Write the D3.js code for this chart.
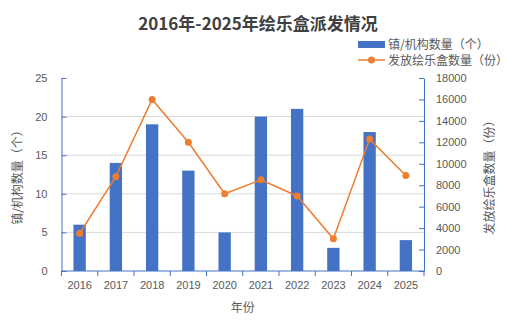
<!DOCTYPE html>
<html>
<head>
<meta charset="utf-8">
<script src="https://cdn.jsdelivr.net/npm/d3@7"></script>
<style>
  body { margin: 0; background: #fff; }
  text { font-family: "Noto Sans CJK SC", "Noto Sans", sans-serif; }
</style>
</head>
<body>
<div id="chart"></div>
<script>
var years = ["2016", "2017", "2018", "2019", "2020", "2021", "2022", "2023", "2024", "2025"];
var orgCount = [6, 14, 19, 13, 5, 20, 21, 3, 18, 4];
var boxCount = [3500, 8800, 16000, 12000, 7200, 8500, 7000, 3000, 12300, 8900];
var leftTicks = [0, 5, 10, 15, 20, 25];
var rightTicks = [0, 2000, 4000, 6000, 8000, 10000, 12000, 14000, 16000, 18000];

var W = 517, H = 325;
var m = { left: 61.5, right: 93, top: 78, bottom: 54 };
var iw = W - m.left - m.right, ih = H - m.top - m.bottom;

var blue = "#4472C4", orange = "#ED7D31", grey = "#595959";

var svg = d3.select("#chart").append("svg")
    .attr("width", W)
    .attr("height", H);

// 标题
svg.append("text")
    .attr("x", 258).attr("y", 30)
    .attr("text-anchor", "middle")
    .style("font-size", "17px")
    .style("font-weight", "bold")
    .attr("fill", "#404040")
    .text("2016年-2025年绘乐盒派发情况");

var x = d3.scaleBand().domain(years).range([0, iw]);
var yL = d3.scaleLinear().domain([0, 25]).range([ih, 0]);
var yR = d3.scaleLinear().domain([0, 18000]).range([ih, 0]);

var g = svg.append("g").attr("transform", "translate(" + m.left + "," + m.top + ")");

// 网格线
g.selectAll(".grid")
    .data(leftTicks.slice(1, -1))
    .enter().append("line")
    .attr("x1", 0).attr("x2", iw)
    .attr("y1", function(d) { return yL(d); })
    .attr("y2", function(d) { return yL(d); })
    .attr("stroke", "#d9d9d9");

// 柱子
var bw = x.bandwidth() * 0.34;
g.selectAll(".bar")
    .data(orgCount)
    .enter().append("rect")
    .attr("x", function(d, i) { return x(years[i]) + (x.bandwidth() - bw) / 2; })
    .attr("y", function(d) { return yL(d); })
    .attr("width", bw)
    .attr("height", function(d) { return ih - yL(d); })
    .attr("fill", blue);

// 折线
var line = d3.line()
    .x(function(d, i) { return x(years[i]) + x.bandwidth() / 2; })
    .y(function(d) { return yR(d); });

g.append("path")
    .datum(boxCount)
    .attr("d", line)
    .attr("fill", "none")
    .attr("stroke", orange)
    .attr("stroke-width", 1.5);

g.selectAll(".dot")
    .data(boxCount)
    .enter().append("circle")
    .attr("cx", function(d, i) { return x(years[i]) + x.bandwidth() / 2; })
    .attr("cy", function(d) { return yR(d); })
    .attr("r", 3.5)
    .attr("fill", orange);

// 坐标轴
function styleAxis(sel) {
  sel.select(".domain").attr("stroke", blue);
  sel.selectAll(".tick line").attr("stroke", blue);
  sel.selectAll(".tick text").attr("fill", grey).style("font-size", "11px")
     .style("font-family", "'Liberation Sans', sans-serif");
}

g.append("g")
    .call(d3.axisLeft(yL).tickValues(leftTicks).tickSizeInner(-5).tickSizeOuter(0).tickPadding(14))
    .call(styleAxis);

g.append("g")
    .attr("transform", "translate(" + iw + ",0)")
    .call(d3.axisRight(yR).tickValues(rightTicks).tickFormat(d3.format("d"))
      .tickSizeInner(-5).tickSizeOuter(0).tickPadding(12))
    .call(styleAxis);

var xa = g.append("g")
    .attr("transform", "translate(0," + ih + ")")
    .call(d3.axisBottom(x).tickSize(0).tickPadding(10))
    .call(styleAxis);
xa.select(".domain").attr("d", "M0,0H" + iw);

// x轴刻度在类别之间
xa.selectAll(".sep")
    .data(d3.range(years.length + 1))
    .enter().append("line")
    .attr("x1", function(i) { return i * x.step(); })
    .attr("x2", function(i) { return i * x.step(); })
    .attr("y1", 0).attr("y2", 5)
    .attr("stroke", blue);

// 轴标题
svg.append("text")
    .attr("transform", "translate(22," + (m.top + ih / 2) + ") rotate(-90)")
    .attr("text-anchor", "middle")
    .attr("fill", grey)
    .style("font-size", "12px")
    .text("镇/机构数量（个）");

svg.append("text")
    .attr("transform", "translate(494," + (m.top + ih / 2) + ") rotate(-90)")
    .attr("text-anchor", "middle")
    .attr("fill", grey)
    .style("font-size", "12px")
    .text("发放绘乐盒数量（份）");

svg.append("text")
    .attr("x", m.left + iw / 2).attr("y", 312)
    .attr("text-anchor", "middle")
    .attr("fill", grey)
    .style("font-size", "12px")
    .text("年份");

// 图例
var lg = svg.append("g").attr("transform", "translate(358,0)");
lg.append("rect")
    .attr("x", 0).attr("y", 41).attr("width", 27).attr("height", 7)
    .attr("fill", blue);
lg.append("text")
    .attr("x", 30).attr("y", 49)
    .attr("fill", grey)
    .style("font-size", "12px")
    .text("镇/机构数量（个）");
lg.append("line")
    .attr("x1", 0).attr("x2", 27).attr("y1", 60).attr("y2", 60)
    .attr("stroke", orange).attr("stroke-width", 1.5);
lg.append("circle")
    .attr("cx", 13.5).attr("cy", 60).attr("r", 3.5)
    .attr("fill", orange);
lg.append("text")
    .attr("x", 30).attr("y", 65)
    .attr("fill", grey)
    .style("font-size", "12px")
    .text("发放绘乐盒数量（份）");
</script>
</body>
</html>
